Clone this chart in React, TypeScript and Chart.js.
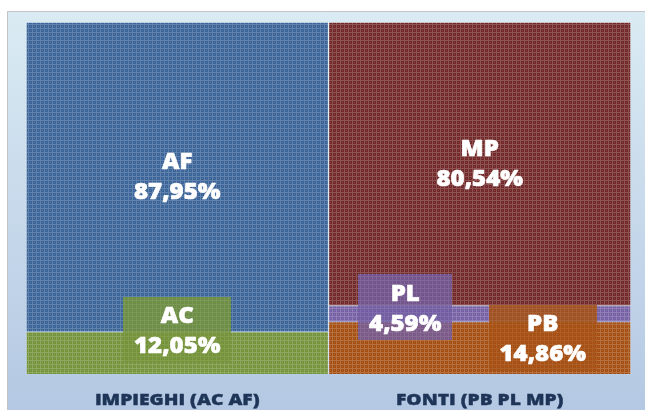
import React, { useEffect, useRef } from "react";
import { Chart, registerables } from "chart.js";

Chart.register(...registerables);

const categories = ["IMPIEGHI (AC AF)", "FONTI (PB PL MP)"];
const seriesNames = ["AC", "AF", "PB", "PL", "MP"];
const acValues = [12.05, null];
const afValues = [87.95, null];
const pbValues = [null, 14.86];
const plValues = [null, 4.59];
const mpValues = [null, 80.54];

const baseColors = ["#74933A", "#3A6398", "#A44E12", "#7560A4", "#722828"];
const boxColors = ["rgba(118,148,60,0.8)", null, "rgba(166,80,20,0.82)", "rgba(112,92,160,0.72)", null];
// label offsets (px) from the segment centre, per series
const labelOffsets = [
  { dx: 0, dy: -21, by: -2 },
  { dx: 0, dy: 0.5, by: 0 },
  { dx: 63, dy: -8, by: -1.5 },
  { dx: -74.5, dy: -4, by: -2.5 },
  { dx: 0, dy: 1, by: 0 },
];

function makePattern(base: string) {
  const c = document.createElement("canvas");
  c.width = 4;
  c.height = 4;
  const g = c.getContext("2d")!;
  g.fillStyle = base;
  g.fillRect(0, 0, 4, 4);
  g.fillStyle = "rgba(255,255,255,0.2)";
  g.fillRect(0, 0, 4, 1);
  g.fillRect(0, 1, 1, 3);
  g.fillStyle = "rgba(255,255,255,0.12)";
  g.fillRect(2, 2, 1, 1);
  return g.createPattern(c, "repeat")!;
}

const fmt = (v: number) => v.toFixed(2).replace(".", ",") + "%";

function stretchedText(ctx: CanvasRenderingContext2D, text: string, x: number, y: number, sx: number, sw: number) {
  ctx.save();
  ctx.translate(x, y);
  ctx.scale(sx, 1);
  ctx.fillText(text, 0, 0);
  if (sw > 0) {
    ctx.lineWidth = sw;
    ctx.lineJoin = "round";
    ctx.strokeText(text, 0, 0);
  }
  ctx.restore();
}

export default function App() {
  const ref = useRef<HTMLCanvasElement>(null);
  useEffect(() => {
    const canvas = ref.current!;
    const patterns = baseColors.map(makePattern);
    const values = [acValues, afValues, pbValues, plValues, mpValues];

    const framePlugin = {
      id: "frame",
      beforeDraw(chart: any) {
        const ctx = chart.ctx as CanvasRenderingContext2D;
        const w = chart.width, h = chart.height;
        ctx.save();
        ctx.fillStyle = "#ffffff";
        ctx.fillRect(0, 0, w, h);
        const grad = ctx.createLinearGradient(0, 11, 0, h);
        grad.addColorStop(0, "#DAEBF3");
        grad.addColorStop(1, "#B4C8E3");
        ctx.fillStyle = grad;
        ctx.fillRect(7, 11, w, h);
        ctx.strokeStyle = "#C4C4C4";
        ctx.lineWidth = 1;
        ctx.beginPath();
        ctx.moveTo(7.5, h);
        ctx.lineTo(7.5, 11.5);
        ctx.lineTo(w, 11.5);
        ctx.stroke();
        ctx.restore();
      },
    };

    const labelPlugin = {
      id: "labels",
      afterDatasetsDraw(chart: any) {
        const ctx = chart.ctx as CanvasRenderingContext2D;
        ctx.save();
        ctx.font = "800 22px 'Open Sans'";
        ctx.textAlign = "center";
        ctx.textBaseline = "middle";
        const sx = 1.09;
        chart.data.datasets.forEach((ds: any, i: number) => {
          const meta = chart.getDatasetMeta(i);
          meta.data.forEach((el: any, j: number) => {
            const v = ds.data[j];
            if (v == null) return;
            const p = el.getProps(["x", "y", "base"], true);
            const cx = p.x + labelOffsets[i].dx;
            const cy = (p.y + p.base) / 2 + labelOffsets[i].dy;
            const l1 = ds.label;
            const l2 = fmt(v);
            const tw = Math.max(ctx.measureText(l1).width, ctx.measureText(l2).width) * sx;
            if (boxColors[i]) {
              const bw = tw + 22;
              const bh = 66;
              const bx = Math.round(cx - bw / 2);
              const byy = Math.round(cy + labelOffsets[i].by - bh / 2);
              ctx.fillStyle = boxColors[i]!;
              ctx.fillRect(bx, byy, Math.round(bw), bh);
              ctx.globalAlpha = 0.35;
              ctx.fillStyle = patterns[i];
              ctx.fillRect(bx, byy, Math.round(bw), bh);
              ctx.globalAlpha = 1;
            }
            ctx.fillStyle = "#FFFFFF";
            ctx.strokeStyle = "#FFFFFF";
            stretchedText(ctx, l1, cx, cy - 15, sx, 0.6);
            stretchedText(ctx, l2, cx, cy + 15, sx, 0.6);
          });
        });
        ctx.restore();
      },
      afterDraw(chart: any) {
        const ctx = chart.ctx as CanvasRenderingContext2D;
        const xs = chart.scales.x;
        ctx.save();
        ctx.font = "800 16px 'Open Sans'";
        ctx.textAlign = "center";
        ctx.textBaseline = "middle";
        ctx.fillStyle = "#1F3558";
        ctx.strokeStyle = "#1F3558";
        (chart.data.labels as string[]).forEach((lab, j) => {
          stretchedText(ctx, lab, xs.getPixelForValue(j), 400, 1.2, 0.4);
        });
        ctx.restore();
      },
    };

    const chart = new Chart(canvas, {
      type: "bar",
      data: {
        labels: categories,
        datasets: seriesNames.map((name, i) => ({
          label: name,
          data: values[i] as any,
          backgroundColor: patterns[i] as any,
          borderColor: "rgba(255,255,255,0.35)",
          borderWidth: 1,
          barPercentage: 1,
          categoryPercentage: 1,
        })),
      },
      options: {
        animation: false,
        responsive: false,
        maintainAspectRatio: false,
        layout: { padding: { left: 26, right: 14, top: 22, bottom: 36 } },
        plugins: { legend: { display: false }, tooltip: { enabled: false } },
        scales: {
          x: { stacked: true, display: false },
          y: { stacked: true, display: false, min: 0, max: 100 },
        },
      },
      plugins: [framePlugin, labelPlugin],
    });
    return () => chart.destroy();
  }, []);
  return (
    <div style={{ position: "fixed", left: 0, top: 0, width: 645, height: 410 }}>
      <canvas ref={ref} width={645} height={410} style={{ display: "block" }} />
    </div>
  );
}
